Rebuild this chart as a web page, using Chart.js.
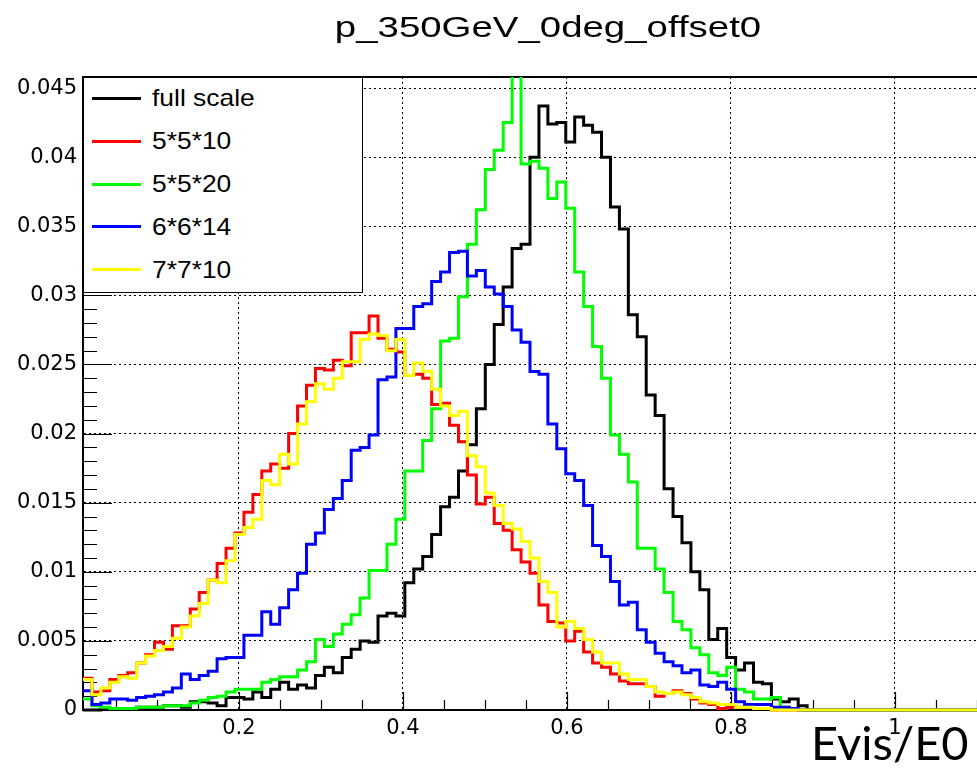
<!DOCTYPE html>
<html>
<head>
<meta charset="utf-8">
<script src="https://cdn.jsdelivr.net/npm/chart.js@4.4.1/dist/chart.umd.min.js"></script>
<style>
html,body{margin:0;padding:0;background:#fff;}
#wrap{position:relative;width:977px;height:769px;overflow:hidden;background:#fff;}
#c{position:absolute;left:0;top:0;}
#title{position:absolute;left:548px;top:12px;font:30px "Liberation Sans",Arial,sans-serif;line-height:30px;white-space:nowrap;color:#000;transform:translateX(-50%) scaleX(1.28);}
#legend{position:absolute;left:83px;top:77px;width:280px;height:216px;box-sizing:border-box;border:1.5px solid #000;background:#fff;}
.row{position:absolute;left:0;height:24px;}
.sample{position:absolute;left:8px;top:10.5px;width:49px;height:3px;}
.txt{position:absolute;left:68px;top:0;font:24px "Liberation Sans",Arial,sans-serif;line-height:24px;white-space:nowrap;color:#000;transform:scaleX(1.1);transform-origin:left center;}
#xlabel{position:absolute;left:811px;top:714px;font:47px "Lato","Open Sans",sans-serif;line-height:56px;white-space:nowrap;color:#000;}
</style>
</head>
<body>
<div id="wrap">
<canvas id="c" width="977" height="769"></canvas>
<div id="title">p_350GeV_0deg_offset0</div>
<div id="legend"></div>
<div id="xlabel">Evis/E0</div>
</div>
<script>
// ---- histogram binning (100 bins) ----
const binLow = 0.01;
const binWidth = 0.0109;

// ---- tick labels ----
const xTicks = [0.2, 0.4, 0.6, 0.8, 1.0];
const yTicks = [0, 0.005, 0.01, 0.015, 0.02, 0.025, 0.03, 0.035, 0.04, 0.045];

// ---- series names ----
const seriesNames = ["full scale", "5*5*10", "5*5*20", "6*6*14", "7*7*10"];

// ---- bin contents ----
const fullScale = [
0,0,0.0001,0.0001,0.0001,0.0001,0.0002,0.0002,0.0002,0.0003,
0.0003,0.0002,0.0006,0.0006,0.0005,0.0003,0.0009,0.0009,0.0008,0.0013,
0.0009,0.0015,0.0020,0.0015,0.0018,0.0016,0.0025,0.0031,0.0027,0.0038,
0.0044,0.0050,0.0049,0.0068,0.0070,0.0068,0.0092,0.0102,0.0111,0.0127,
0.0147,0.0154,0.0173,0.0192,0.0218,0.0250,0.0279,0.0306,0.0334,0.0337,
0.0400,0.0437,0.0424,0.0425,0.0411,0.0429,0.0423,0.0418,0.0400,0.0364,
0.0348,0.0286,0.0270,0.0228,0.0213,0.0160,0.0140,0.0121,0.0100,0.0087,
0.0051,0.0059,0.0038,0.0029,0.0034,0.0020,0.0019,0.0008,0.0006,0.0008,
0.0003,0,0,0,0,0,0,0,0,0,
0,0,0,0,0,0,0,0,0,0
];
const s5x5x10 = [
0.0023,0.0013,0.0014,0.0022,0.0025,0.0027,0.0034,0.0040,0.0049,0.0044,
0.0061,0.0061,0.0073,0.0085,0.0094,0.0106,0.0117,0.0128,0.0143,0.0156,
0.0173,0.0178,0.0175,0.0200,0.0220,0.0235,0.0247,0.0246,0.0253,0.0249,
0.0273,0.0273,0.0285,0.0269,0.0261,0.0259,0.0242,0.0243,0.0240,0.0221,
0.0222,0.0206,0.0194,0.0170,0.0149,0.0154,0.0135,0.0130,0.0116,0.0107,
0.0099,0.0076,0.0064,0.0063,0.0050,0.0057,0.0042,0.0034,0.0031,0.0026,
0.0021,0.0019,0.0019,0.0017,0.0010,0.0012,0.0014,0.0012,0.0008,0.0005,
0.0004,0.0001,0.0002,0.0002,0.0002,0.0001,0.0001,0,0,0,
0,0,0,0,0,0,0,0,0,0,
0,0,0,0,0,0,0,0,0,0
];
const s5x5x20 = [
0.0008,0.0003,0.0002,0.0001,0.0001,0.0001,0.0002,0.0002,0.0002,0.0003,
0.0003,0.0003,0.0005,0.0007,0.0009,0.0010,0.0013,0.0015,0.0015,0.0015,
0.0020,0.0022,0.0024,0.0024,0.0029,0.0035,0.0051,0.0046,0.0055,0.0062,
0.0069,0.0081,0.0101,0.0101,0.0120,0.0138,0.0173,0.0173,0.0195,0.0218,
0.0267,0.0269,0.0299,0.0337,0.0362,0.0391,0.0405,0.0425,0.0470,0.0395,
0.0397,0.0392,0.0370,0.0382,0.0363,0.0317,0.0292,0.0263,0.0240,0.0199,
0.0185,0.0165,0.0117,0.0117,0.0102,0.0085,0.0064,0.0058,0.0045,0.0040,
0.0027,0.0025,0.0031,0.0015,0.0013,0.0008,0.0008,0.0009,0.0002,0.0001,
0,0,0,0,0,0,0,0,0,0,
0,0,0,0,0,0,0,0,0,0
];
const s6x6x14 = [
0.0014,0.0004,0.0005,0.0008,0.0008,0.0007,0.0009,0.0010,0.0011,0.0013,
0.0016,0.0026,0.0022,0.0025,0.0028,0.0037,0.0038,0.0038,0.0054,0.0054,
0.0071,0.0062,0.0074,0.0087,0.0099,0.0120,0.0128,0.0145,0.0153,0.0166,
0.0188,0.0190,0.0199,0.0239,0.0241,0.0276,0.0276,0.0292,0.0294,0.0310,
0.0317,0.0331,0.0332,0.0314,0.0318,0.0306,0.0301,0.0292,0.0275,0.0266,
0.0245,0.0243,0.0207,0.0189,0.0171,0.0166,0.0148,0.0119,0.0111,0.0093,
0.0076,0.0078,0.0058,0.0049,0.0041,0.0035,0.0032,0.0027,0.0029,0.0018,
0.0017,0.0020,0.0015,0.0006,0.0004,0.0004,0.0004,0.0002,0.0002,0.0001,
0,0,0,0,0,0,0,0,0,0,
0,0,0,0,0,0,0,0,0,0
];
const s7x7x10 = [
0.0022,0.0011,0.0016,0.0020,0.0024,0.0023,0.0034,0.0039,0.0043,0.0046,
0.0052,0.0060,0.0068,0.0077,0.0094,0.0092,0.0108,0.0127,0.0132,0.0138,
0.0166,0.0163,0.0185,0.0178,0.0207,0.0223,0.0236,0.0232,0.0240,0.0252,
0.0252,0.0268,0.0272,0.0271,0.0260,0.0268,0.0242,0.0251,0.0245,0.0232,
0.0220,0.0213,0.0216,0.0184,0.0176,0.0157,0.0148,0.0135,0.0131,0.0122,
0.0110,0.0093,0.0085,0.0060,0.0064,0.0059,0.0051,0.0042,0.0034,0.0034,
0.0026,0.0022,0.0022,0.0017,0.0013,0.0012,0.0013,0.0011,0.0009,0.0006,
0.0005,0.0004,0.0004,0.0002,0.0002,0.0001,0.0001,0,0,0,
0,0,0,0,0,0,0,0,0,0,
0,0,0,0,0,0,0,0,0,0
];

const seriesValues = [fullScale, s5x5x10, s5x5x20, s6x6x14, s7x7x10];
const seriesColors = ["#000000", "#ff0000", "#00ff00", "#0000ff", "#ffff00"];
const drawOrder = [4, 3, 2, 1, 0]; // lower = drawn later (on top)

// histogram outline: each bin contributes its left and right edge at its content
function histPoints(vals) {
  const pts = [];
  vals.forEach((v, i) => {
    pts.push({x: binLow + i * binWidth, y: v});
    pts.push({x: binLow + (i + 1) * binWidth, y: v});
  });
  return pts;
}

// ---- HTML legend (real text) ----
const legendRowsY = [20, 63, 106, 148.5, 191.5];
const legendEl = document.getElementById('legend');
seriesNames.forEach((name, i) => {
  const row = document.createElement('div');
  row.className = 'row';
  row.style.top = (legendRowsY[i] - 12) + 'px';
  row.style.width = '270px';
  const s = document.createElement('div');
  s.className = 'sample';
  s.style.background = seriesColors[i];
  const t = document.createElement('div');
  t.className = 'txt';
  t.textContent = name;
  row.appendChild(s); row.appendChild(t);
  legendEl.appendChild(row);
});

// ---- frame + ROOT style ticks ----
const rootFrame = {
  id: 'rootFrame',
  beforeDatasetsDraw(chart) {
    const {ctx, chartArea: a, scales: {x, y}} = chart;
    ctx.save();
    ctx.strokeStyle = '#000';
    ctx.lineWidth = 1.2;
    ctx.beginPath();
    for (let k = 0; k <= 45; k++) {
      const v = k * 0.001;
      const py = Math.round(y.getPixelForValue(v)) + 0.5;
      const len = (k % 5 === 0) ? 29 : 14;
      ctx.moveTo(a.left, py); ctx.lineTo(a.left + len, py);
    }
    for (let k = 1; k <= 22; k++) {
      const v = k * 0.05;
      if (v < x.min || v > x.max) continue;
      const px = Math.round(x.getPixelForValue(v)) + 0.5;
      const len = (k % 4 === 0) ? 18 : 10;
      ctx.moveTo(px, a.bottom); ctx.lineTo(px, a.bottom - len);
    }
    ctx.stroke();
    ctx.lineWidth = 2;
    ctx.beginPath();
    ctx.moveTo(a.left, a.top); ctx.lineTo(a.right, a.top);
    ctx.stroke();
    ctx.restore();
  }
};

const fmt = v => String(+(+v).toFixed(3));

new Chart(document.getElementById('c'), {
  type: 'line',
  data: {
    datasets: seriesNames.map((name, i) => ({
      label: name,
      data: histPoints(seriesValues[i]),
      borderColor: seriesColors[i],
      backgroundColor: seriesColors[i],
      borderWidth: 3,
      pointRadius: 0,
      pointHoverRadius: 0,
      fill: false,
      tension: 0,
      order: drawOrder[i],
      clip: {left: 0, top: 0, right: 0, bottom: 3},
      borderJoinStyle: 'miter',
      borderCapStyle: 'butt'
    }))
  },
  options: {
    responsive: false,
    animation: false,
    devicePixelRatio: 1,
    parsing: false,
    normalized: true,
    events: [],
    layout: {padding: {top: 77, left: 0, right: 0, bottom: 0}},
    plugins: {legend: {display: false}, title: {display: false}, tooltip: {enabled: false}},
    scales: {
      x: {
        type: 'linear',
        min: 0.01,
        max: 1.1,
        afterBuildTicks: s => { s.ticks = xTicks.map(v => ({value: v})); },
        afterFit: s => { s.height = 59; },
        ticks: {
          color: '#000',
          font: {family: 'DejaVu Sans', size: 21},
          padding: 6,
          maxRotation: 0,
          autoSkip: false,
          callback: fmt
        },
        grid: {color: '#000', lineWidth: 1, drawTicks: false},
        border: {display: true, color: '#000', width: 2, dash: [2, 3]}
      },
      y: {
        type: 'linear',
        min: 0,
        max: 0.0458,
        afterBuildTicks: s => { s.ticks = yTicks.map(v => ({value: v})); },
        afterFit: s => { s.width = 83; },
        ticks: {
          color: '#000',
          font: {family: 'DejaVu Sans', size: 21},
          padding: 6,
          autoSkip: false,
          callback: fmt
        },
        grid: {color: '#000', lineWidth: 1, drawTicks: false},
        border: {display: true, color: '#000', width: 2, dash: [2, 3]}
      }
    }
  },
  plugins: [rootFrame]
});
</script>
</body>
</html>
